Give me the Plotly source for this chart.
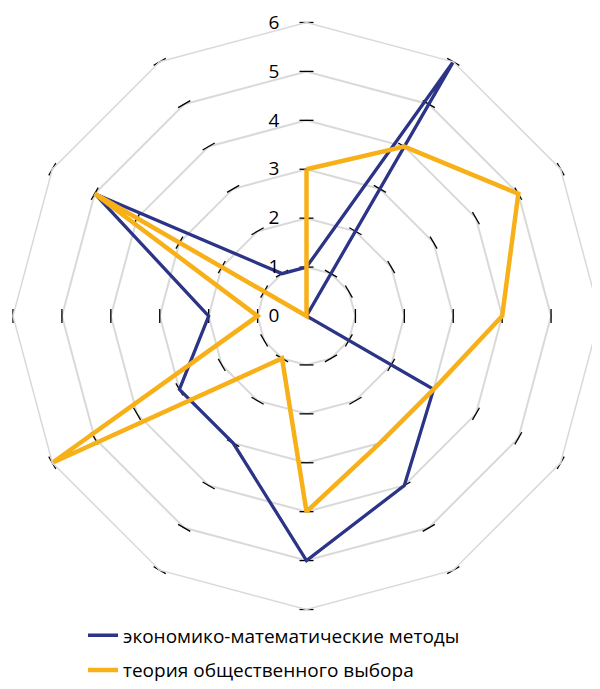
import plotly.graph_objects as go

categories = ["1", "2", "3", "4", "5", "6", "7", "8", "9", "10", "11", "12"]
econ_math = [1, 6, 0, 0, 3, 4, 5, 3, 3, 2, 5, 1]
public_choice = [3, 4, 5, 4, 3, 3, 4, 1, 6, 1, 5, 0]
series_names = ["экономико-математические методы", "теория общественного выбора"]
tick_values = [0, 1, 2, 3, 4, 5, 6]

BLUE = "#2b3486"
ORANGE = "#f8b019"
FONT = "Open Sans"

fig = go.Figure()

# short tick marks across every spoke at each level
tk_r, tk_t, tk_a = [], [], []
for i, c in enumerate(categories):
    for v in tick_values[1:]:
        tk_r.append(v)
        tk_t.append(c)
        tk_a.append(i * 360 / len(categories))
fig.add_trace(go.Scatterpolar(
    r=tk_r, theta=tk_t, mode="markers",
    marker=dict(symbol="line-ew", size=10, angle=tk_a,
                line=dict(color="#000000", width=1.3)),
    showlegend=False, hoverinfo="skip"))

for vals, name, col, w, grp in [(econ_math, series_names[0], BLUE, 3.3, "a"),
                                 (public_choice, series_names[1], ORANGE, 4.5, "b")]:
    fig.add_trace(go.Scatterpolar(
        r=vals + vals[:1], theta=categories + categories[:1],
        mode="lines", name=name, legendgroup=grp,
        line=dict(color=col, width=w)))

fig.update_layout(
    width=600, height=689,
    margin=dict(l=5, r=8, t=14, b=87, autoexpand=False),
    paper_bgcolor="white", plot_bgcolor="white",
    font=dict(family=FONT, size=19, color="#000000"),
    polar=dict(
        domain=dict(x=[0, 1], y=[0, 1]),
        bgcolor="white",
        gridshape="linear",
        radialaxis=dict(range=[0, 6], tickvals=tick_values, angle=90,
                        tickangle=90,
                        showline=False, showgrid=True, gridcolor="#d9d9d9",
                        gridwidth=1.5, ticks="outside", ticklen=20,
                        tickcolor="rgba(0,0,0,0)", tickfont=dict(size=19),
                        side="counterclockwise"),
        angularaxis=dict(direction="clockwise", rotation=90,
                         showgrid=False, showline=True, linecolor="#d9d9d9",
                         linewidth=1.5, showticklabels=False, ticks=""),
    ),
    legend=dict(xref="container", yref="container",
                x=0.125, y=0.117, xanchor="left", yanchor="top",
                font=dict(size=19), tracegroupgap=7, traceorder="grouped"),
)

fig.write_html("out.html")
